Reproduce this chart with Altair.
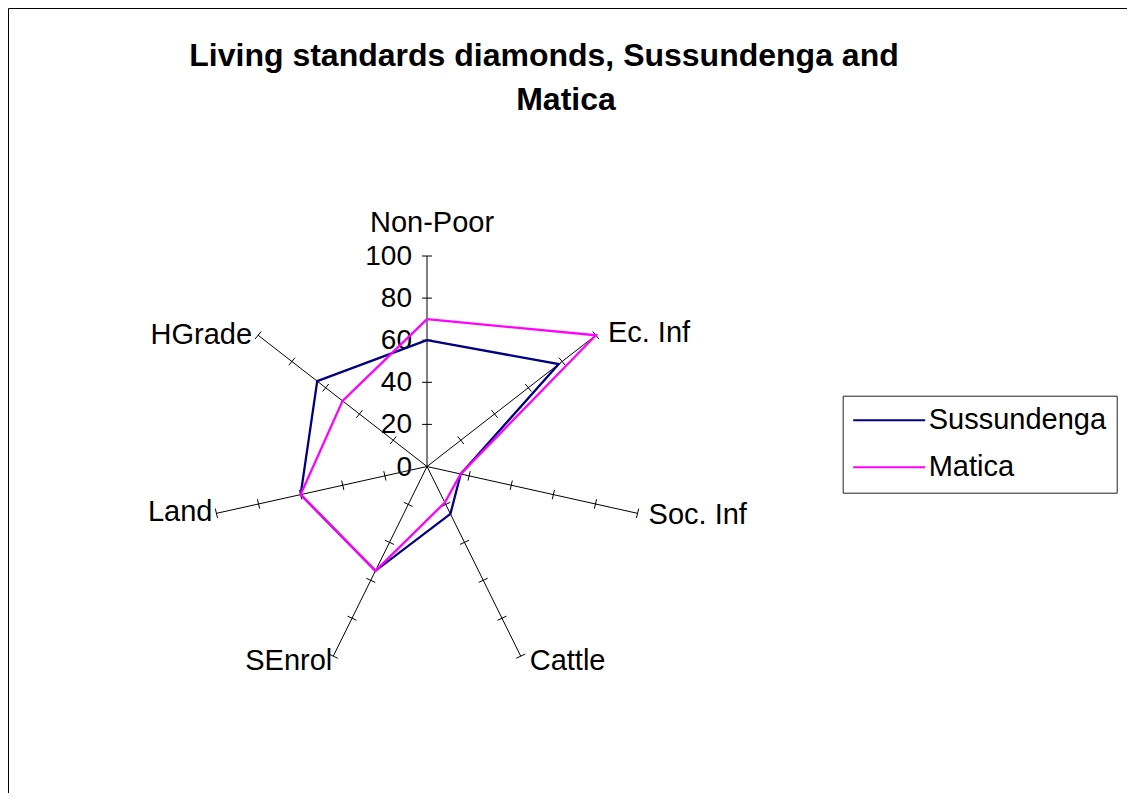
import altair as alt
import pandas as pd

# ---------------- data ----------------
title_lines = ["Living standards diamonds, Sussundenga and", "Matica"]
categories = ["Non-Poor", "Ec. Inf", "Soc. Inf", "Cattle", "SEnrol", "Land", "HGrade"]
series_names = ["Sussundenga", "Matica"]
sussundenga = [60, 78, 16, 25, 55, 60, 65]
matica = [70, 100, 16, 19, 55, 60, 50]
tick_values = [0, 20, 40, 60, 80, 100]
axis_max = 100

# ---------------- layout / style ----------------
FONT = "Liberation Sans"
W, H = 1119, 785          # plot area (whole chart)
CX, CY = 419.0, 458.5     # centre of the radar inside the plot area (px)
PX_X, PX_Y = 2.16, 2.105  # px per data unit
XMIN = -CX / PX_X
XMAX = XMIN + W / PX_X
YMAX = CY / PX_Y
YMIN = YMAX - H / PX_Y
TICK_HALF = 2.3           # half length of spoke tick marks, data units
COLORS = ["#000080", "#FF00FF"]

n = len(categories)
ANG = f"datum.idx * 2 * PI / {n}"

xs = alt.Scale(domain=[XMIN, XMAX], nice=False, zero=False)
ys = alt.Scale(domain=[YMIN, YMAX], nice=False, zero=False)

# ---------------- tables built from the arrays ----------------
line_rows = []
for name, vals in zip(series_names, [sussundenga, matica]):
    for k in range(n + 1):
        i = k % n
        line_rows.append({"series": name, "order": k, "idx": i,
                          "category": categories[i], "value": vals[i]})
line_df = pd.DataFrame(line_rows)

spoke_df = pd.DataFrame({"idx": list(range(n)), "category": categories})
tick_df = pd.DataFrame([{"idx": i, "v": v} for i in range(n) for v in tick_values if v > 0])
tlabel_df = pd.DataFrame({"v": tick_values, "label": [str(v) for v in tick_values]})

# ---------------- layers ----------------
spokes = alt.Chart(spoke_df).transform_calculate(
    a=ANG, x0="0", y0="0",
    x1=f"{axis_max} * sin({ANG})", y1=f"{axis_max} * cos({ANG})",
).mark_rule(color="black", strokeWidth=1).encode(
    x=alt.X("x0:Q", scale=xs, axis=None),
    y=alt.Y("y0:Q", scale=ys, axis=None),
    x2="x1:Q", y2="y1:Q",
)

ticks = alt.Chart(tick_df).transform_calculate(
    a=ANG,
).transform_calculate(
    tx1=f"datum.v * sin(datum.a) - {TICK_HALF} * cos(datum.a)",
    ty1=f"datum.v * cos(datum.a) + {TICK_HALF} * sin(datum.a)",
    tx2=f"datum.v * sin(datum.a) + {TICK_HALF} * cos(datum.a)",
    ty2=f"datum.v * cos(datum.a) - {TICK_HALF} * sin(datum.a)",
).mark_rule(color="black", strokeWidth=1).encode(
    x=alt.X("tx1:Q", scale=xs, axis=None),
    y=alt.Y("ty1:Q", scale=ys, axis=None),
    x2="tx2:Q", y2="ty2:Q",
)

tick_labels = alt.Chart(tlabel_df).transform_calculate(x0="0").mark_text(
    align="right", baseline="middle", dx=-15, dy=1, fontSize=28, font=FONT, color="black"
).encode(
    x=alt.X("x0:Q", scale=xs, axis=None),
    y=alt.Y("v:Q", scale=ys, axis=None),
    text="label:N",
)

lines = alt.Chart(line_df).transform_calculate(
    px=f"datum.value * sin({ANG})", py=f"datum.value * cos({ANG})",
).mark_line(strokeWidth=2.3).encode(
    x=alt.X("px:Q", scale=xs, axis=None),
    y=alt.Y("py:Q", scale=ys, axis=None),
    order="order:Q",
    color=alt.Color(
        "series:N",
        scale=alt.Scale(domain=series_names, range=COLORS),
        legend=alt.Legend(
            orient="none", legendX=834.7, legendY=387.7, title=None,
            symbolType="M-3,0L3,0", symbolSize=576, symbolStrokeWidth=2,
            symbolOffset=22, labelOffset=25, labelFontSize=29, labelFont=FONT,
            labelColor="black", strokeColor="#222222", fillColor="white",
            padding=10, rowPadding=17, labelLimit=0,
        ),
    ),
)

# category labels: (align, baseline, dx, dy)
label_style = {
    "Non-Poor": ("center", "alphabetic", 5, -24),
    "Ec. Inf": ("left", "middle", 12, -2),
    "Soc. Inf": ("left", "middle", 11, 2),
    "Cattle": ("left", "middle", 9, 5),
    "SEnrol": ("right", "middle", -1, 5),
    "Land": ("right", "middle", -4, -1),
    "HGrade": ("right", "middle", -6, 0),
}
cat_layers = []
for i, cat in enumerate(categories):
    al, bl, dx, dy = label_style[cat]
    cat_layers.append(
        alt.Chart(spoke_df).transform_filter(f"datum.idx == {i}").transform_calculate(
            lx=f"{axis_max} * sin({ANG})", ly=f"{axis_max} * cos({ANG})",
        ).mark_text(align=al, baseline=bl, dx=dx, dy=dy, fontSize=29, font=FONT, color="black").encode(
            x=alt.X("lx:Q", scale=xs, axis=None),
            y=alt.Y("ly:Q", scale=ys, axis=None),
            text="category:N",
        )
    )

title1 = alt.Chart(pd.DataFrame({"t": [title_lines[0]]})).mark_text(
    align="center", baseline="alphabetic", fontSize=32, fontWeight="bold", font=FONT, color="black"
).encode(x=alt.value(536), y=alt.value(58), text="t:N")
title2 = alt.Chart(pd.DataFrame({"t": [title_lines[1]]})).mark_text(
    align="center", baseline="alphabetic", fontSize=32, fontWeight="bold", font=FONT, color="black"
).encode(x=alt.value(558), y=alt.value(102), text="t:N")

chart = alt.layer(
    spokes, ticks, tick_labels, lines, *cat_layers, title1, title2
).properties(
    width=W, height=H, padding=0, background="white",
    autosize=alt.AutoSizeParams(type="none"),
).configure_view(stroke="black", strokeWidth=1)

chart.save("out.html", embed_options={"renderer": "svg", "actions": False})
